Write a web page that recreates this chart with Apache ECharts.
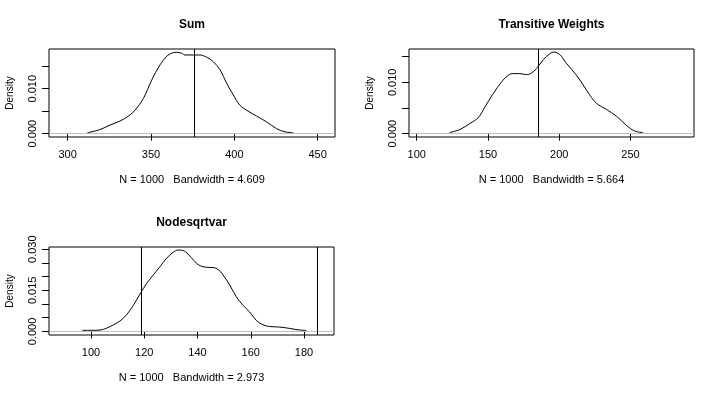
<!DOCTYPE html>
<html>
<head>
<meta charset="utf-8">
<script src="https://cdn.jsdelivr.net/npm/echarts@6/dist/echarts.min.js"></script>
<style>html,body{margin:0;padding:0;background:#fff}#c{width:720px;height:396px}</style>
</head>
<body>
<div id="c"></div>
<script>
// ---- data ----
var titles = ['Sum', 'Transitive Weights', 'Nodesqrtvar'];
var subtitles = ['N = 1000   Bandwidth = 4.609', 'N = 1000   Bandwidth = 5.664', 'N = 1000   Bandwidth = 2.973'];

var sumX = [311.8, 319.4, 325.4, 331.4, 336.4, 340.4, 345.4, 350.4, 355.4, 359.4, 362.4, 365.4, 368.4, 370.4, 375.4, 379.4, 383.4, 387.4, 391.4, 395.4, 399.4, 403.4, 407.4, 413.4, 419.4, 425.4, 430.4, 435.4];
var sumY = [0.0002, 0.0009, 0.0019, 0.0028, 0.0039, 0.0052, 0.0078, 0.0119, 0.0153, 0.0172, 0.0179, 0.0181, 0.0179, 0.0175, 0.0175, 0.0175, 0.0170, 0.0160, 0.0142, 0.0112, 0.0086, 0.0063, 0.0052, 0.0039, 0.0026, 0.0011, 0.0004, 0.0002];

var twX = [122.9, 130.4, 137.4, 143.2, 147.9, 153.7, 159.6, 164.3, 167.8, 172.4, 177.1, 180.6, 184.1, 188.8, 193.5, 196.3, 200.5, 205.1, 212.1, 216.8, 221.5, 226.2, 233.2, 240.2, 247.2, 253.0, 258.9];
var twY = [0.0002, 0.0008, 0.0020, 0.0031, 0.0052, 0.0078, 0.0101, 0.0114, 0.0117, 0.0117, 0.0115, 0.0118, 0.0127, 0.0144, 0.0156, 0.0159, 0.0154, 0.0137, 0.0114, 0.0095, 0.0075, 0.0059, 0.0047, 0.0034, 0.0016, 0.0005, 0.0002];

var nsX = [96.75, 99.6, 103.4, 105.9, 108.4, 110.9, 113.4, 115.9, 118.4, 120.9, 123.4, 125.9, 128.4, 130.9, 132.75, 134.6, 136.5, 139.0, 140.9, 143.4, 145.9, 147.75, 149.6, 152.1, 154.6, 157.1, 159.6, 162.1, 164.6, 167.1, 170.9, 174.6, 178.4, 180.9];
var nsY = [0.0004, 0.0004, 0.0005, 0.0012, 0.0024, 0.0038, 0.0061, 0.0095, 0.0136, 0.0175, 0.0206, 0.0236, 0.0267, 0.0289, 0.0297, 0.0295, 0.0282, 0.0255, 0.0240, 0.0234, 0.0233, 0.0226, 0.0206, 0.0169, 0.0126, 0.0095, 0.0071, 0.0040, 0.0024, 0.0018, 0.0016, 0.0011, 0.0005, 0.0004];

var vlines = [[375.8], [185.5], [119.0, 184.9]];

var xTicks = [[300, 350, 400, 450], [100, 150, 200, 250], [100, 120, 140, 160, 180]];
var yTicks = [[0, 0.005, 0.010, 0.015], [0, 0.005, 0.010, 0.015], [0, 0.005, 0.010, 0.015, 0.020, 0.025, 0.030]];
var yLabels = [[0, 0.010], [0, 0.010], [0, 0.015, 0.030]];

var xRanges = [[288.8, 460.4], [94.6, 294.6], [84.25, 191.25]];
var yRanges = [[-0.00075, 0.01883], [-0.00066, 0.01650], [-0.0013, 0.0308]];

// ---- layout ----
var grids = [
  {left: 49, top: 49, width: 286, height: 88},
  {left: 409, top: 49, width: 285, height: 88},
  {left: 49, top: 247, width: 285, height: 88}
];
var FONT = 'Liberation Sans, Arial, sans-serif';
var xs = [sumX, twX, nsX], ys = [sumY, twY, nsY];

function pairs(a, b) { return a.map(function (v, i) { return [v, b[i]]; }); }

var option = {
  animation: false,
  backgroundColor: '#fff',
  title: [],
  grid: grids.map(function (g) {
    return {left: g.left, top: g.top, width: g.width, height: g.height, show: true,
      borderColor: '#000', borderWidth: 1, backgroundColor: 'transparent', containLabel: false};
  }),
  xAxis: [], yAxis: [], series: []
};

for (var i = 0; i < 3; i++) {
  var g = grids[i];
  var cx = g.left + g.width / 2;
  option.title.push({text: titles[i], left: cx, top: g.top - 30, textAlign: 'center', padding: 0,
    textStyle: {fontFamily: FONT, fontSize: 12, fontWeight: 'bold', color: '#000'}});
  option.title.push({text: subtitles[i], left: cx, top: g.top + 125, textAlign: 'center', padding: 0,
    textStyle: {fontFamily: FONT, fontSize: 11, fontWeight: 'normal', color: '#000'}});
  option.xAxis.push({
    type: 'value', gridIndex: i, min: xRanges[i][0], max: xRanges[i][1],
    axisLine: {show: false}, splitLine: {show: false},
    axisTick: {show: true, inside: false, length: 7, customValues: xTicks[i], lineStyle: {color: '#000', width: 1}},
    axisLabel: {show: true, customValues: xTicks[i], margin: 12, color: '#000', fontFamily: FONT, fontSize: 11}
  });
  option.yAxis.push({
    type: 'value', gridIndex: i, min: yRanges[i][0], max: yRanges[i][1],
    name: 'Density', nameLocation: 'middle', nameRotate: 90, nameGap: 34,
    nameTextStyle: {fontFamily: FONT, fontSize: 10, color: '#000'},
    axisLine: {show: false}, splitLine: {show: false},
    axisTick: {show: true, inside: false, length: 7, customValues: yTicks[i], lineStyle: {color: '#000', width: 1}},
    axisLabel: {show: true, customValues: yLabels[i], rotate: 90, margin: 11, color: '#000', fontFamily: FONT, fontSize: 11,
      formatter: function (v) { return Number(v).toFixed(3); }}
  });
  option.series.push({
    type: 'line', xAxisIndex: i, yAxisIndex: i, data: pairs(xs[i], ys[i]),
    smooth: 0.35, showSymbol: false, symbol: 'none', clip: true,
    lineStyle: {color: '#000', width: 1},
    markLine: {
      silent: true, symbol: ['none', 'none'], label: {show: false}, animation: false,
      data: [{yAxis: 0, lineStyle: {color: '#bebebe', width: 1, type: 'solid'}}].concat(
        vlines[i].map(function (v) { return {xAxis: v, lineStyle: {color: '#000', width: 1, type: 'solid'}}; }))
    }
  });
}

var chart = echarts.init(document.getElementById('c'), null, {renderer: 'canvas'});
chart.setOption(option);
</script>
</body>
</html>
